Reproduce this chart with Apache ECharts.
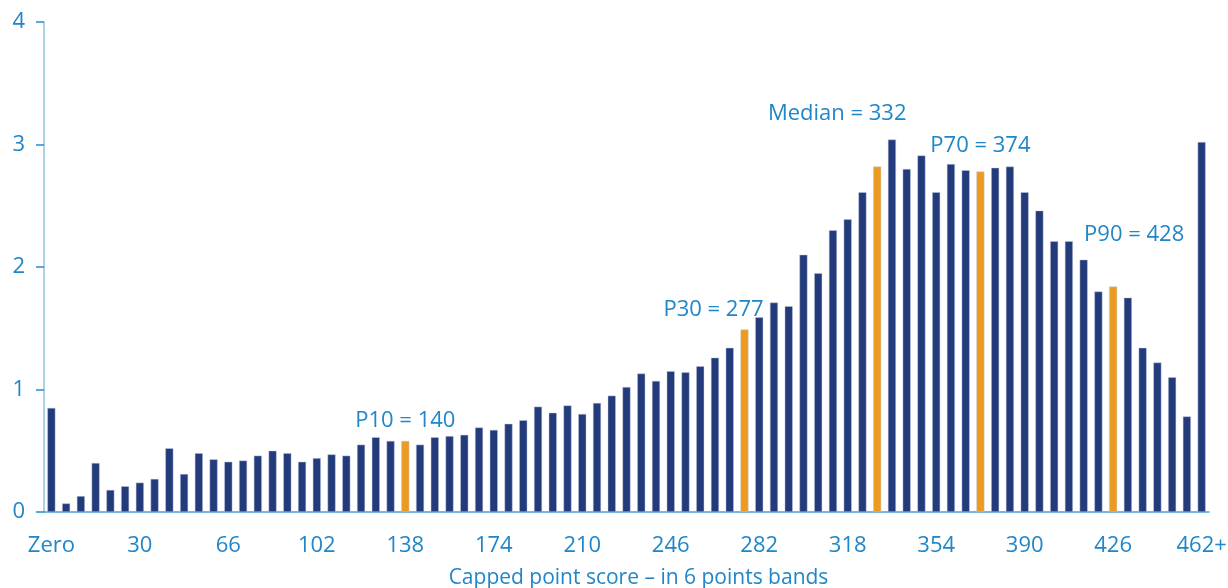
<!DOCTYPE html>
<html>
<head>
<meta charset="utf-8">
<title>Capped point score distribution</title>
<script src="https://cdn.jsdelivr.net/npm/echarts@6/dist/echarts.min.js"></script>
<style>
    html, body { margin: 0; padding: 0; background: #fff; }
    #chart { width: 1228px; height: 588px; }
</style>
</head>
<body>
<div id="chart"></div>
<script>
// band labels: "Zero", then lower bound of each 6 point band, last one capped
var categories = ['Zero',
    '0', '6', '12', '18', '24', '30', '36', '42', '48', '54', '60', '66', '72', '78', '84', '90', '96',
    '102', '108', '114', '120', '126', '132', '138', '144', '150', '156', '162', '168', '174', '180',
    '186', '192', '198', '204', '210', '216', '222', '228', '234', '240', '246', '252', '258', '264',
    '270', '276', '282', '288', '294', '300', '306', '312', '318', '324', '330', '336', '342', '348',
    '354', '360', '366', '372', '378', '384', '390', '396', '402', '408', '414', '420', '426', '432',
    '438', '444', '450', '456', '462+'];

// share of pupils in each band (%)
var shares = [
    0.85, 0.07, 0.13, 0.40, 0.18, 0.21, 0.24, 0.27, 0.52, 0.31, 0.48, 0.43, 0.41, 0.42,
    0.46, 0.50, 0.48, 0.41, 0.44, 0.47, 0.46, 0.55, 0.61, 0.58, 0.58, 0.55, 0.61, 0.62, 0.63, 0.69,
    0.67, 0.72, 0.75, 0.86, 0.81, 0.87, 0.80, 0.89, 0.95, 1.02, 1.13, 1.07, 1.15, 1.14, 1.19, 1.26, 1.34,
    1.49, 1.59, 1.71, 1.68, 2.10, 1.95, 2.30, 2.39, 2.61, 2.82, 3.04, 2.80, 2.91, 2.61, 2.84, 2.79,
    2.78, 2.81, 2.82, 2.61, 2.46, 2.21, 2.21, 2.06, 1.80, 1.84, 1.75, 1.34, 1.22, 1.10, 0.78, 3.02
];

var percentileNames = ['P10', 'P30', 'Median', 'P70', 'P90'];
var percentileScores = [140, 277, 332, 374, 428];

var yTicks = [0, 1, 2, 3, 4];

// label nudges (px) for the percentile notes
var noteOffsets = [[0, -9], [-31, -9], [-40, -42], [0, -15], [21, -41]];

var navy = '#233b7a';
var orange = '#ec9b22';
var textBlue = '#2086c8';
var font = '"Open Sans", "Noto Sans", sans-serif';

var marked = {};
percentileScores.forEach(function (s, i) {
    marked[Math.floor(s / 6) + 1] = i;
});

var barData = shares.map(function (v, idx) {
    var p = marked[idx];
    if (p === undefined) {
        return v;
    }
    return {
        value: v,
        itemStyle: { color: orange },
        label: {
            show: true,
            position: 'top',
            distance: 0,
            offset: noteOffsets[p],
            formatter: percentileNames[p] + ' = ' + percentileScores[p],
            color: textBlue,
            fontSize: 22,
            fontFamily: font
        }
    };
});

var chart = echarts.init(document.getElementById('chart'));

chart.setOption({
    animation: false,
    grid: { left: 44, right: 19, top: 22, bottom: 76, outerBoundsMode: 'none' },
    xAxis: {
        type: 'category',
        data: categories,
        boundaryGap: true,
        name: 'Capped point score \u2013 in 6 points bands',
        nameLocation: 'middle',
        nameGap: 56,
        nameTextStyle: { color: textBlue, fontSize: 21, fontFamily: font, padding: [0, 0, 0, 24] },
        axisLine: { lineStyle: { color: '#4a9fd8', width: 1.5 } },
        axisTick: { interval: 5, length: 7, lineStyle: { color: '#2a8bd0', width: 1.5 } },
        axisLabel: { interval: 5, margin: 23, color: textBlue, fontSize: 22, fontFamily: font }
    },
    yAxis: {
        type: 'value',
        min: yTicks[0],
        max: yTicks[yTicks.length - 1],
        interval: 1,
        splitLine: { show: false },
        axisLine: { show: true, lineStyle: { color: '#8dc3e7', width: 1.5 } },
        axisTick: { show: true, length: 8, lineStyle: { color: '#2a8bd0', width: 1.5 } },
        axisLabel: { margin: 19, color: textBlue, fontSize: 22, fontFamily: font }
    },
    series: [{
        type: 'bar',
        data: barData,
        barWidth: 8,
        itemStyle: { color: navy, borderColor: 'rgba(190,200,225,0.9)', borderWidth: 0.5 }
    }]
});
</script>
</body>
</html>
